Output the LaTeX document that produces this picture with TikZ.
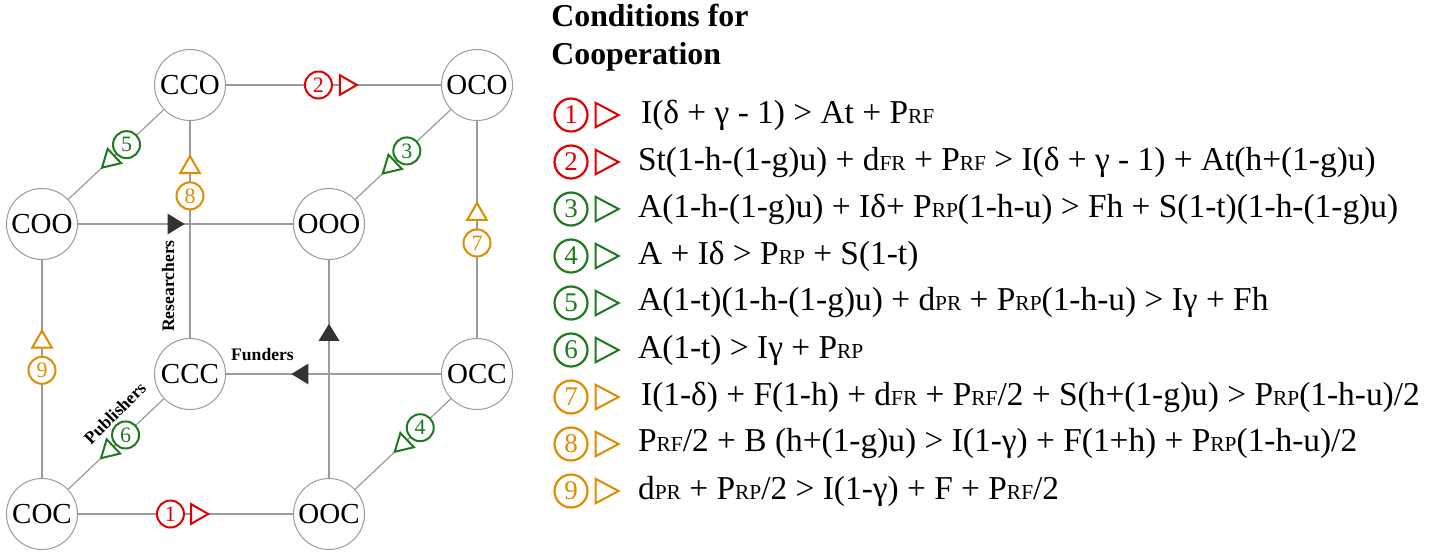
\documentclass[tikz,border=0pt]{standalone}
\usepackage{fontspec}
\setmainfont{Liberation Serif}
\usetikzlibrary{shapes.geometric, positioning}

\definecolor{condred}{RGB}{224,0,0}
\definecolor{condgreen}{RGB}{30,122,30}
\definecolor{condorange}{RGB}{224,140,0}
\definecolor{axisgray}{RGB}{51,51,51}
\definecolor{edgegray}{RGB}{155,155,155}

\newcommand{\idx}[1]{{\fontsize{10.7}{10.7}\selectfont #1}}

\tikzstyle{state} = [circle, draw=edgegray, line width=0.5pt, minimum size=35.5pt, inner sep=0pt, fill=white, font=\fontsize{14.5}{14.5}\selectfont]
\tikzstyle{edge} = [draw=edgegray, line width=0.6pt]
\tikzstyle{num} = [circle, draw, line width=1pt, minimum size=13.5pt, inner sep=0pt, fill=white, font=\fontsize{11}{11}\selectfont]
\tikzstyle{tri} = [isosceles triangle, isosceles triangle apex angle=60, draw, minimum size=8.5pt, inner sep=0pt, line width=1pt, fill=white, sloped, allow upside down]
\tikzstyle{axis} = [isosceles triangle, isosceles triangle apex angle=63, minimum size=8.5pt, inner sep=0pt, fill=axisgray, sloped, allow upside down]
\tikzstyle{axislabel} = [inner sep=0pt, font=\bfseries\fontsize{8.8}{9}\selectfont]
\tikzstyle{legnum} = [circle, draw, line width=1.1pt, minimum size=16.5pt, inner sep=0pt, font=\fontsize{13.5}{13.5}\selectfont]
\tikzstyle{legtri} = [isosceles triangle, isosceles triangle apex angle=56, draw, minimum size=11.5pt, inner sep=0pt, line width=1pt]
\tikzstyle{cond} = [inner sep=0pt, font=\fontsize{16.7}{18}\selectfont]
\tikzstyle{redmark} = [draw=condred, text=condred]
\tikzstyle{greenmark} = [draw=condgreen, text=condgreen]
\tikzstyle{orangemark} = [draw=condorange, text=condorange]

\begin{document}
\begin{tikzpicture}[x=0.5pt, y=-0.5pt, node distance=23.5pt]
        \useasboundingbox (0,0) rectangle (1445,553);

        % cube of strategies
        \node (cco) [state] at (190,85) {CCO};
        \node (oco) [state] at (477,85) {OCO};
        \node (coo) [state] at (42,224) {COO};
        \node (ooo) [state] at (329,224) {OOO};
        \node (ccc) [state] at (190,374) {CCC};
        \node (occ) [state] at (477,374) {OCC};
        \node (coc) [state] at (42,514) {COC};
        \node (ooc) [state] at (329,514) {OOC};

        \draw [edge] (coo) -- node[axis, pos=0.444] (ar) {} (ooo);
        \draw [edge] (ooc) -- node[axis, pos=0.656] (ap) {} (ooo);
        \draw [edge] (occ) -- node[axis, pos=0.644] (af) {} (ccc);

        \draw [edge] (coc) -- node[num, redmark, pos=0.43] (e1) {1} node[tri, redmark, pos=0.553] (s1) {} (ooc);
        \draw [edge] (cco) -- node[num, redmark, pos=0.43] (e2) {2} node[tri, redmark, pos=0.556] (s2) {} (oco);
        \draw [edge] (oco) -- node[num, greenmark, pos=0.46] (e3) {3} node[tri, greenmark, pos=0.625] (s3) {} (ooo);
        \draw [edge] (occ) -- node[num, greenmark, pos=0.32] (e4) {4} node[tri, greenmark, pos=0.50] (s4) {} (ooc);
        \draw [edge] (cco) -- node[num, greenmark, pos=0.39] (e5) {5} node[tri, greenmark, pos=0.56] (s5) {} (coo);
        \draw [edge] (ccc) -- node[num, greenmark, pos=0.40] (e6) {6} node[tri, greenmark, pos=0.57] (s6) {} (coc);
        \draw [edge] (occ) -- node[num, orangemark, pos=0.438] (e7) {7} node[tri, orangemark, pos=0.57] (s7) {} (oco);
        \draw [edge] (ccc) -- node[num, orangemark, pos=0.655] (e8) {8} node[tri, orangemark, pos=0.786] (s8) {} (cco);
        \draw [edge] (coc) -- node[num, orangemark, pos=0.494] (e9) {9} node[tri, orangemark, pos=0.624] (s9) {} (coo);

        \node (researchers) [axislabel, rotate=90] at (168,286) {Researchers};
        \node (funders) [axislabel] at (262.5,354) {Funders};
        \node (publishers) [axislabel, rotate=45] at (115,413) {Publishers};

        % conditions
        \node (title) [anchor=north west, align=left, inner sep=0pt, font=\bfseries\fontsize{15.9}{19}\selectfont] at (551,4) {Conditions for\\Cooperation};

        \node (n1) [legnum, redmark] at (571,115) {1};
        \node (n2) [legnum, redmark, below of=n1] {2};
        \node (n3) [legnum, greenmark, below of=n2] {3};
        \node (n4) [legnum, greenmark, below of=n3] {4};
        \node (n5) [legnum, greenmark, below of=n4] {5};
        \node (n6) [legnum, greenmark, below of=n5] {6};
        \node (n7) [legnum, orangemark, below of=n6] {7};
        \node (n8) [legnum, orangemark, below of=n7] {8};
        \node (n9) [legnum, orangemark, below of=n8] {9};

        \node (t1) [legtri, redmark, right=3pt of n1] {};
        \node (t2) [legtri, redmark, right=3pt of n2] {};
        \node (t3) [legtri, greenmark, right=3pt of n3] {};
        \node (t4) [legtri, greenmark, right=3pt of n4] {};
        \node (t5) [legtri, greenmark, right=3pt of n5] {};
        \node (t6) [legtri, greenmark, right=3pt of n6] {};
        \node (t7) [legtri, orangemark, right=3pt of n7] {};
        \node (t8) [legtri, orangemark, right=3pt of n8] {};
        \node (t9) [legtri, orangemark, right=3pt of n9] {};

        \node (c1) [cond, right=10pt of t1] {I(δ + γ - 1) > At + P\idx{RF}};
        \node (c2) [cond, right=8.5pt of t2] {St(1-h-(1-g)u) + d\idx{FR} + P\idx{RF} > I(δ + γ - 1) + At(h+(1-g)u)};
        \node (c3) [cond, right=8.5pt of t3] {A(1-h-(1-g)u) + Iδ+ P\idx{RP}(1-h-u) > Fh + S(1-t)(1-h-(1-g)u)};
        \node (c4) [cond, right=8.5pt of t4] {A + Iδ > P\idx{RP} + S(1-t)};
        \node (c5) [cond, right=8.5pt of t5] {A(1-t)(1-h-(1-g)u) + d\idx{PR} + P\idx{RP}(1-h-u) > Iγ + Fh};
        \node (c6) [cond, right=8.5pt of t6] {A(1-t) > Iγ + P\idx{RP}};
        \node (c7) [cond, right=10pt of t7] {I(1-δ) + F(1-h) + d\idx{FR} + P\idx{RF}/2 + S(h+(1-g)u) > P\idx{RP}(1-h-u)/2};
        \node (c8) [cond, right=8.5pt of t8] {P\idx{RF}/2 + B (h+(1-g)u) > I(1-γ) + F(1+h) + P\idx{RP}(1-h-u)/2};
        \node (c9) [cond, right=8.5pt of t9] {d\idx{PR} + P\idx{RP}/2 > I(1-γ) + F + P\idx{RF}/2};
\end{tikzpicture}
\end{document}
